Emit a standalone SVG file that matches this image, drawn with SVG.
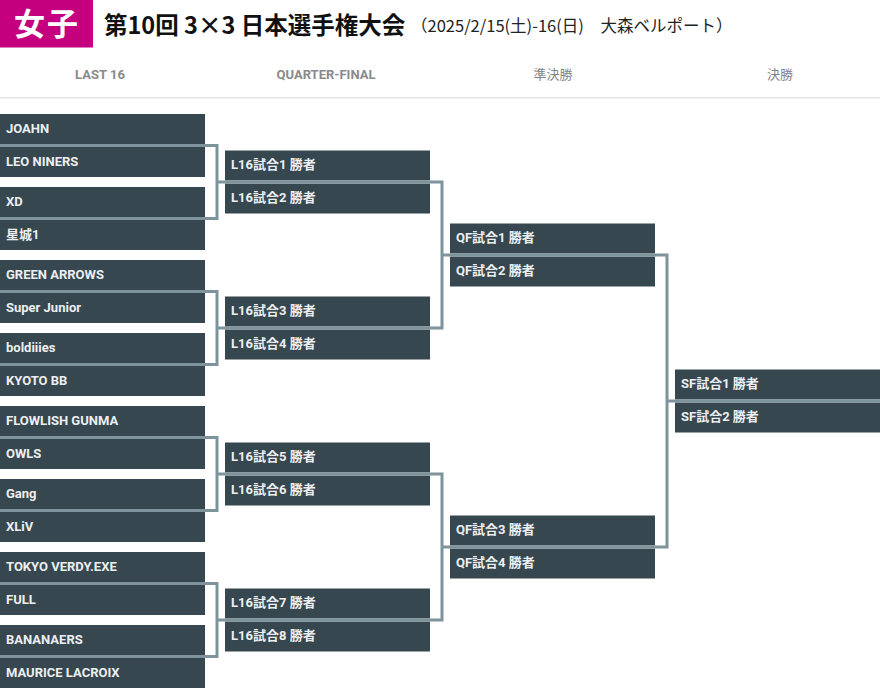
<svg xmlns="http://www.w3.org/2000/svg" width="880" height="690" viewBox="0 0 880 690">
<style>
.bx{fill:#37474f}
.t{font-family:Roboto,"Noto Sans CJK JP",sans-serif;font-weight:bold;font-size:13px;fill:#eceff1}
.hd{font-family:Roboto,"Noto Sans CJK JP",sans-serif;font-weight:bold;font-size:13px;fill:#8a8a8a;text-anchor:middle}
.hdj{font-family:"Noto Sans CJK JP",sans-serif;font-size:13px;fill:#858585;text-anchor:middle}
.cn{fill:none;stroke:#7f939c;stroke-width:3;stroke-linejoin:miter}
</style>
<rect width="880" height="690" fill="#ffffff"/>
<g id="header">
<rect x="0" y="0" width="93" height="47.5" fill="#c4007f"/>
<text x="47" y="35" text-anchor="middle" font-family="'Noto Sans CJK JP',sans-serif" font-weight="bold" font-size="31" fill="#ffffff" letter-spacing="2">女子</text>
<text x="104" y="33.5" font-family="'Noto Sans CJK JP',sans-serif" font-weight="bold" font-size="23.5" fill="#111111">第10回 3×3 日本選手権大会</text>
<text x="411" y="32" font-family="'Noto Sans CJK JP',sans-serif" font-size="16.5" fill="#222222">（2025/2/15(土)-16(日)　大森ベルポート）</text>
<text class="hd" x="100" y="79">LAST 16</text>
<text class="hd" x="326" y="79">QUARTER-FINAL</text>
<text class="hdj" x="553" y="79">準決勝</text>
<text class="hdj" x="780" y="79">決勝</text>
<rect x="0" y="97" width="880" height="1.5" fill="#e4e4e4"/>
</g>
<g id="r16-1"><rect class="bx" x="0" y="114" width="205" height="30"/><text class="t" x="6" y="133">JOAHN</text><rect class="bx" x="0" y="147" width="205" height="30"/><text class="t" x="6" y="166">LEO NINERS</text></g>
<g id="r16-2"><rect class="bx" x="0" y="187" width="205" height="30"/><text class="t" x="6" y="206">XD</text><rect class="bx" x="0" y="220" width="205" height="30"/><text class="t" x="6" y="239">星城1</text></g>
<g id="r16-3"><rect class="bx" x="0" y="260" width="205" height="30"/><text class="t" x="6" y="279">GREEN ARROWS</text><rect class="bx" x="0" y="293" width="205" height="30"/><text class="t" x="6" y="312">Super Junior</text></g>
<g id="r16-4"><rect class="bx" x="0" y="333" width="205" height="30"/><text class="t" x="6" y="352">boldiiies</text><rect class="bx" x="0" y="366" width="205" height="30"/><text class="t" x="6" y="385">KYOTO BB</text></g>
<g id="r16-5"><rect class="bx" x="0" y="406" width="205" height="30"/><text class="t" x="6" y="425">FLOWLISH GUNMA</text><rect class="bx" x="0" y="439" width="205" height="30"/><text class="t" x="6" y="458">OWLS</text></g>
<g id="r16-6"><rect class="bx" x="0" y="479" width="205" height="30"/><text class="t" x="6" y="498">Gang</text><rect class="bx" x="0" y="512" width="205" height="30"/><text class="t" x="6" y="531">XLiV</text></g>
<g id="r16-7"><rect class="bx" x="0" y="552" width="205" height="30"/><text class="t" x="6" y="571">TOKYO VERDY.EXE</text><rect class="bx" x="0" y="585" width="205" height="30"/><text class="t" x="6" y="604">FULL</text></g>
<g id="r16-8"><rect class="bx" x="0" y="625" width="205" height="30"/><text class="t" x="6" y="644">BANANAERS</text><rect class="bx" x="0" y="658" width="205" height="30"/><text class="t" x="6" y="677">MAURICE LACROIX</text></g>
<g id="qf-1"><rect class="bx" x="225" y="150.5" width="205" height="30"/><text class="t" x="231" y="168.5">L16試合1 勝者</text><rect class="bx" x="225" y="183.5" width="205" height="30"/><text class="t" x="231" y="201.5">L16試合2 勝者</text></g>
<g id="qf-2"><rect class="bx" x="225" y="296.5" width="205" height="30"/><text class="t" x="231" y="314.5">L16試合3 勝者</text><rect class="bx" x="225" y="329.5" width="205" height="30"/><text class="t" x="231" y="347.5">L16試合4 勝者</text></g>
<g id="qf-3"><rect class="bx" x="225" y="442.5" width="205" height="30"/><text class="t" x="231" y="460.5">L16試合5 勝者</text><rect class="bx" x="225" y="475.5" width="205" height="30"/><text class="t" x="231" y="493.5">L16試合6 勝者</text></g>
<g id="qf-4"><rect class="bx" x="225" y="588.5" width="205" height="30"/><text class="t" x="231" y="606.5">L16試合7 勝者</text><rect class="bx" x="225" y="621.5" width="205" height="30"/><text class="t" x="231" y="639.5">L16試合8 勝者</text></g>
<g id="sf-1"><rect class="bx" x="450" y="223.5" width="205" height="30"/><text class="t" x="456" y="241.5">QF試合1 勝者</text><rect class="bx" x="450" y="256.5" width="205" height="30"/><text class="t" x="456" y="274.5">QF試合2 勝者</text></g>
<g id="sf-2"><rect class="bx" x="450" y="515.5" width="205" height="30"/><text class="t" x="456" y="533.5">QF試合3 勝者</text><rect class="bx" x="450" y="548.5" width="205" height="30"/><text class="t" x="456" y="566.5">QF試合4 勝者</text></g>
<g id="final"><rect class="bx" x="675" y="369.5" width="205" height="30"/><text class="t" x="681" y="387.5">SF試合1 勝者</text><rect class="bx" x="675" y="402.5" width="205" height="30"/><text class="t" x="681" y="420.5">SF試合2 勝者</text></g>
<g id="connectors">
<path class="cn" d="M0 145.5H217V218.5H0"/>
<path class="cn" d="M0 291.5H217V364.5H0"/>
<path class="cn" d="M0 437.5H217V510.5H0"/>
<path class="cn" d="M0 583.5H217V656.5H0"/>
<path class="cn" d="M217 182H442V328H217"/>
<path class="cn" d="M217 474H442V620H217"/>
<path class="cn" d="M442 255H667V547H442"/>
<path class="cn" d="M667 401H880"/>
</g>
</svg>
